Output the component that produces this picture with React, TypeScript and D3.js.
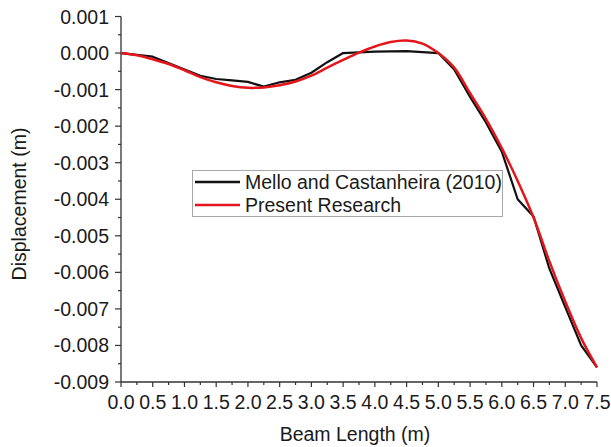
import React from "react";
import * as d3 from "d3";

const melloX = [0, 0.5, 1.25, 1.5, 1.75, 2.0, 2.25, 2.5, 2.75, 3.0, 3.25, 3.5, 4.0, 4.5, 5.0, 5.25, 5.5, 5.75, 6.0, 6.25, 6.5, 6.75, 7.0, 7.25, 7.5];
const melloY = [0, -0.0001, -0.00062, -0.00071, -0.00075, -0.00079, -0.00092, -0.0008, -0.00073, -0.00054, -0.00025, 0, 0.00004, 0.00005, 0, -0.00045, -0.0012, -0.0019, -0.0027, -0.004, -0.00447, -0.0059, -0.00695, -0.008, -0.0086];

const presentX = [0, 0.25, 0.5, 0.75, 1.0, 1.25, 1.5, 1.75, 2.0, 2.25, 2.5, 2.75, 3.0, 3.25, 3.5, 3.75, 4.0, 4.25, 4.5, 4.75, 5.0, 5.25, 5.5, 5.75, 6.0, 6.25, 6.5, 6.75, 7.0, 7.25, 7.5];
const presentY = [0, -0.00006, -0.00017, -0.0003, -0.00047, -0.00066, -0.0008, -0.0009, -0.00095, -0.00094, -0.00088, -0.00078, -0.00062, -0.0004, -0.00019, 0.00001, 0.00018, 0.0003, 0.00034, 0.00026, 0.0, -0.0004, -0.0011, -0.0018, -0.0026, -0.0035, -0.0045, -0.0057, -0.0068, -0.0078, -0.0086];

const xTicks = [0, 0.5, 1, 1.5, 2, 2.5, 3, 3.5, 4, 4.5, 5, 5.5, 6, 6.5, 7, 7.5];
const xMinor = [0.25, 0.75, 1.25, 1.75, 2.25, 2.75, 3.25, 3.75, 4.25, 4.75, 5.25, 5.75, 6.25, 6.75, 7.25];
const yTicks = [0.001, 0, -0.001, -0.002, -0.003, -0.004, -0.005, -0.006, -0.007, -0.008, -0.009];
const yMinor = [0.0005, -0.0005, -0.0015, -0.0025, -0.0035, -0.0045, -0.0055, -0.0065, -0.0075, -0.0085];

const seriesNames = ["Mello and Castanheira (2010)", "Present Research"];
const seriesColors = ["#111111", "#e3161b"];

const loc = d3.formatLocale({ decimal: ".", thousands: ",", grouping: [3], currency: ["", ""], minus: "-" });
const fy = loc.format(".3f");
const fx = loc.format(".1f");

export default function App() {
  const x = d3.scaleLinear().domain([0, 7.5]).range([121, 597]);
  const y = d3.scaleLinear().domain([-0.009, 0.001]).range([382, 16.5]);
  const mello = melloX.map((v, i) => [v, melloY[i]] as [number, number]);
  const present = presentX.map((v, i) => [v, presentY[i]] as [number, number]);
  const lineLin = d3.line<[number, number]>().x(d => x(d[0])).y(d => y(d[1]));
  const lineSmooth = d3.line<[number, number]>().x(d => x(d[0])).y(d => y(d[1])).curve(d3.curveCatmullRom.alpha(0.5));
  const font = "'Liberation Sans', Arial, sans-serif";
  const axisColor = "#333";
  const fs = 19.5;
  const x0 = x(0), yB = y(-0.009);
  return (
    <svg width={611} height={447} style={{ position: "absolute", left: 0, top: 0, background: "#fff" }} fontFamily={font}>
      <rect width={611} height={447} fill="#fff" />
      <line x1={x0} x2={x0} y1={y(0.001)} y2={yB} stroke={axisColor} strokeWidth={1.3} />
      <line x1={x0} x2={x(7.5)} y1={yB} y2={yB} stroke={axisColor} strokeWidth={1.3} />
      {yTicks.map(t => (
        <g key={"yt" + t}>
          <line x1={x0 - 6} x2={x0} y1={y(t)} y2={y(t)} stroke={axisColor} strokeWidth={1.2} />
          <text x={x0 - 12} y={y(t)} dy="0.36em" textAnchor="end" fontSize={fs} fill="#1a1a1a">{fy(t)}</text>
        </g>
      ))}
      {yMinor.map(t => (
        <line key={"ym" + t} x1={x0 - 3} x2={x0} y1={y(t)} y2={y(t)} stroke={axisColor} strokeWidth={1.2} />
      ))}
      {xTicks.map(t => (
        <g key={"xt" + t}>
          <line x1={x(t)} x2={x(t)} y1={yB} y2={yB + 5} stroke={axisColor} strokeWidth={1.2} />
          <text x={x(t)} y={yB + 26.5} textAnchor="middle" fontSize={fs} fill="#1a1a1a">{fx(t)}</text>
        </g>
      ))}
      {xMinor.map(t => (
        <line key={"xm" + t} x1={x(t)} x2={x(t)} y1={yB} y2={yB + 3} stroke={axisColor} strokeWidth={1.2} />
      ))}
      <text x={355} y={441} textAnchor="middle" fontSize={fs} fill="#1a1a1a">Beam Length (m)</text>
      <text transform="translate(26,204) rotate(-90)" textAnchor="middle" fontSize={fs} fill="#1a1a1a">Displacement (m)</text>
      <path d={lineLin(mello) || ""} fill="none" stroke={seriesColors[0]} strokeWidth={2.2} strokeLinejoin="round" />
      <path d={lineSmooth(present) || ""} fill="none" stroke={seriesColors[1]} strokeWidth={2.5} strokeLinejoin="round" />
      <rect x={192.5} y={170.5} width={310} height={46} fill="#fff" stroke="#a8a8a8" strokeWidth={1} />
      {seriesNames.map((n, i) => (
        <g key={n}>
          <line x1={195} x2={240} y1={182 + i * 23} y2={182 + i * 23} stroke={seriesColors[i]} strokeWidth={2.5} />
          <text x={245} y={182 + i * 23} dy="0.36em" fontSize={fs} fill="#1a1a1a">{n}</text>
        </g>
      ))}
    </svg>
  );
}
